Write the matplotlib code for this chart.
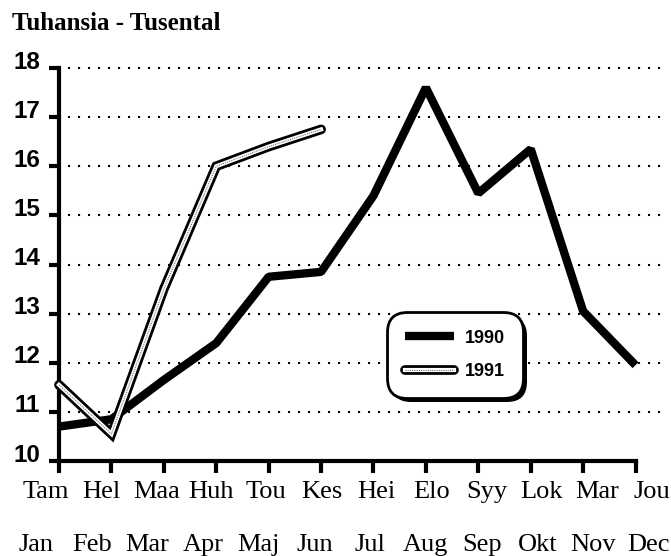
import matplotlib
matplotlib.use("Agg")
import matplotlib.pyplot as plt
import matplotlib.patheffects as pe
from matplotlib.legend_handler import HandlerTuple

# ---- data ----
months_fi = ["Tam", "Hel", "Maa", "Huh", "Tou", "Kes", "Hei", "Elo", "Syy", "Lok", "Mar", "Jou"]
months_sv = ["Jan", "Feb", "Mar", "Apr", "Maj", "Jun", "Jul", "Aug", "Sep", "Okt", "Nov", "Dec"]
values_1990 = [10.7, 10.85, 11.65, 12.4, 13.75, 13.85, 15.4, 17.6, 15.45, 16.35, 13.05, 11.95]
values_1991 = [11.55, 10.55, 13.5, 16.0, 16.4, 16.75]
yticks = [10, 11, 12, 13, 14, 15, 16, 17, 18]
title = "Tuhansia - Tusental"

W, H = 671, 556
fig = plt.figure(figsize=(W / 100, H / 100), dpi=100)
ax = fig.add_axes([59 / W, 1 - 461 / H, 608 / W, 393 / H])

x90 = list(range(len(values_1990)))
x91 = list(range(len(values_1991)))

l90, = ax.plot(x90, values_1990, color="black", lw=6, solid_joinstyle="bevel",
               solid_capstyle="butt", zorder=3, clip_on=False)
l91b, = ax.plot(x91, values_1991, color="black", lw=7, solid_joinstyle="miter",
                solid_capstyle="round", zorder=4, clip_on=False)
l91w, = ax.plot(x91, values_1991, color="white", lw=3, solid_joinstyle="miter",
                zorder=5, clip_on=False)
l91d, = ax.plot(x91, values_1991, color="0.45", lw=0.8, linestyle=(0, (1, 1)),
                zorder=6, clip_on=False)

ax.set_xlim(0, 11.6)
ax.set_ylim(10, 18)
ax.set_xticks(x90)
ax.set_yticks(yticks)

# dotted gridlines
for v in yticks[1:]:
    ax.plot([0.18, 11.6], [v, v], color="black", lw=1.5,
            linestyle=(0, (1, 3.8)), zorder=1, clip_on=False)

for s in ["top", "right"]:
    ax.spines[s].set_visible(False)
ax.spines["left"].set_linewidth(3)
ax.spines["bottom"].set_linewidth(3)
ax.spines["left"].set_bounds(10, 18)
ax.spines["bottom"].set_bounds(0, 11)
ax.tick_params(axis="y", direction="out", length=7, width=3, labelleft=False)
ax.tick_params(axis="x", direction="out", length=8.5, width=3, labelbottom=False)

# y tick labels
for v in yticks:
    ax.annotate(str(v), xy=(0, v), xycoords=("axes fraction", "data"),
                xytext=(-13.5, 4.3), textcoords="offset points",
                ha="right", va="center", fontsize=17.5, fontweight="bold",
                family="Liberation Sans")

# x tick labels (two rows)
for i, lab in enumerate(months_fi):
    fig.text((46 + i * 55.1) / W, 1 - 492 / H, lab, ha="center", va="center",
             fontsize=19, family="Liberation Serif")
for i, lab in enumerate(months_sv):
    fig.text((36 + i * 55.7) / W, 1 - 545 / H, lab, ha="center", va="center",
             fontsize=19, family="Liberation Serif")

fig.text(12 / W, 1 - 23 / H, title, ha="left", va="center", fontsize=18,
         fontweight="bold", family="Liberation Serif")

leg = ax.legend([l90, (l91b, l91w, l91d)], ["1990", "1991"],
                handler_map={tuple: HandlerTuple(ndivide=1)},
                loc="center", bbox_to_anchor=(0.651, 0.270),
                prop={"family": "Liberation Sans", "weight": "bold", "size": 13},
                handlelength=2.7, handletextpad=0.6, labelspacing=0.9,
                borderpad=1.0, fancybox=True, framealpha=1, shadow=False)
frame = leg.get_frame()
frame.set_edgecolor("black")
frame.set_linewidth(2)
frame.set_boxstyle("round", pad=0, rounding_size=1.1)
frame.set_path_effects([pe.SimplePatchShadow(offset=(3, -3), shadow_rgbFace="black", alpha=1),
                        pe.Normal()])

fig.savefig("out.png", dpi=100)
